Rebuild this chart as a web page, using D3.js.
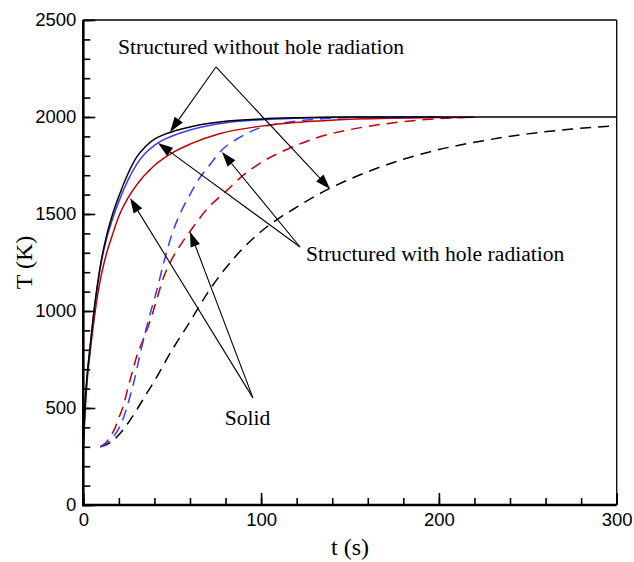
<!DOCTYPE html>
<html>
<head>
<meta charset="utf-8">
<script src="https://cdn.jsdelivr.net/npm/d3@7/dist/d3.min.js"></script>
<style>
body { margin: 0; background: #fff; }
</style>
</head>
<body>
<script>
// values: [t (s), T (K)]
var withoutHoleSolid = [[0,300],[1,520],[2,650],[4,830],[6,1000],[8,1140],[10,1255],[13,1385],[16,1485],[20,1592],[25,1705],[30,1793],[35,1848],[40,1886],[45,1908],[50,1924],[60,1948],[70,1966],[80,1978],[100,1990],[120,1996],[150,2000],[200,2000],[300,2000]];
var withHoleSolid = [[0,300],[1,515],[2,645],[4,825],[6,995],[8,1130],[10,1245],[13,1370],[16,1462],[20,1565],[25,1672],[30,1756],[35,1814],[40,1854],[45,1882],[50,1902],[60,1933],[70,1955],[80,1970],[100,1986],[120,1994],[150,1999],[200,2000]];
var solidSolid = [[0,300],[2,620],[4,800],[6,950],[8,1080],[10,1180],[13,1295],[16,1382],[20,1488],[25,1580],[30,1650],[40,1750],[50,1815],[60,1860],[77,1915],[100,1953],[133,1980],[150,1988],[200,1997],[220,1999]];

var withoutHoleDashed = [[9.5,300],[15,320],[20,362],[25,420],[30,490],[35,565],[40,640],[50,800],[60,945],[70,1095],[80,1220],[90,1325],[100,1410],[110,1478],[120,1535],[130,1590],[140,1638],[160,1718],[180,1782],[200,1832],[225,1878],[250,1913],[275,1938],[300,1955]];
var withHoleDashed = [[9.5,300],[12,310],[15,330],[18,365],[20,395],[23,460],[26,550],[29,655],[32,780],[35,895],[38,1000],[41,1095],[45,1240],[50,1400],[55,1512],[60,1600],[65,1680],[70,1740],[78,1830],[88,1895],[98,1940],[110,1965],[130,1988],[150,1997],[200,2000]];
var solidDashed = [[9.5,300],[12,315],[15,350],[18,400],[20,450],[22.5,510],[25,600],[28,700],[30,765],[34,860],[38,960],[41,1050],[45,1170],[50,1270],[55,1345],[60,1410],[70,1530],[80,1615],[90,1700],[100,1765],[115,1835],[133,1898],[150,1935],[170,1965],[190,1985],[220,2000]];

var xMajor = [0, 100, 200, 300];
var yMajor = [0, 500, 1000, 1500, 2000, 2500];

// annotation text + arrows (anchor points in data units)
var labels = ["Structured without hole radiation", "Structured with hole radiation", "Solid"];
var labelPos = [[19.5, 2325], [125.2, 1260], [79.5, 412]];
var arrowFrom = [[74.6, 2258], [121.9, 1330], [95.4, 552]];
var arrowTo = [
	[[48.8, 1923], [138.8, 1629]],
	[[42, 1866], [78, 1820]],
	[[26.3, 1582], [60, 1409]]
];

var width = 634, height = 562;
var plotL = 83.3, plotR = 616.7, plotT = 20, plotB = 505; // "top" is taken by window.top

var svg = d3.select("body").append("svg")
	.attr("width", width)
	.attr("height", height)
	.style("display", "block");

var x = d3.scaleLinear().domain([0, 300]).range([plotL, plotR]);
var y = d3.scaleLinear().domain([0, 2500]).range([plotB, plotT]);

var series = [
	{ pts: withoutHoleDashed, color: "#000000", dash: "11,7" },
	{ pts: solidDashed, color: "#c00000", dash: "11,7" },
	{ pts: withHoleDashed, color: "#3838ff", dash: "11,7" },
	{ pts: solidSolid, color: "#c00000", dash: null },
	{ pts: withHoleSolid, color: "#3838ff", dash: null },
	{ pts: withoutHoleSolid, color: "#000000", dash: null }
];

var line = d3.line()
	.x(function (d) { return x(d[0]); })
	.y(function (d) { return y(d[1]); })
	.curve(d3.curveMonotoneX);

svg.selectAll("path.curve")
	.data(series)
	.enter()
	.append("path")
	.attr("class", "curve")
	.attr("d", function (d) { return line(d.pts); })
	.attr("fill", "none")
	.attr("stroke", function (d) { return d.color; })
	.attr("stroke-width", 1.5)
	.attr("stroke-dasharray", function (d) { return d.dash; });

// axes, ticks pointing inward
var tickFont = "'Liberation Sans', Arial, Helvetica, sans-serif";

var yMinor = svg.append("g").attr("transform", "translate(" + plotL + ",0)")
	.call(d3.axisLeft(y).tickValues(d3.range(0, 2501, 100)).tickSize(-7).tickFormat(""));
var yAxis = svg.append("g").attr("transform", "translate(" + plotL + ",0)")
	.call(d3.axisLeft(y).tickValues(yMajor).tickSize(-12).tickPadding(7).tickFormat(d3.format("d")));

var xMinor = svg.append("g").attr("transform", "translate(0," + plotB + ")")
	.call(d3.axisBottom(x).tickValues(d3.range(0, 301, 20)).tickSize(-7).tickFormat(""));
var xAxis = svg.append("g").attr("transform", "translate(0," + plotB + ")")
	.call(d3.axisBottom(x).tickValues(xMajor).tickSize(-12).tickPadding(8).tickFormat(d3.format("d")));

[yMinor, yAxis, xMinor, xAxis].forEach(function (g) {
	g.select(".domain").remove();
	g.selectAll(".tick line").attr("stroke", "#000").attr("stroke-width", 1.6);
	g.selectAll(".tick text")
		.attr("fill", "#000")
		.style("font-family", tickFont)
		.style("font-size", "18.5px");
});

// frame: left and bottom heavier than top and right
svg.append("line").attr("x1", plotL).attr("y1", plotT).attr("x2", plotR).attr("y2", plotT)
	.attr("stroke", "#000").attr("stroke-width", 1.3);
svg.append("line").attr("x1", plotR).attr("y1", plotT).attr("x2", plotR).attr("y2", plotB)
	.attr("stroke", "#000").attr("stroke-width", 1.3);
svg.append("line").attr("x1", plotL).attr("y1", plotT).attr("x2", plotL).attr("y2", plotB + 1.2)
	.attr("stroke", "#000").attr("stroke-width", 2.6);
svg.append("line").attr("x1", plotL - 1.2).attr("y1", plotB).attr("x2", plotR).attr("y2", plotB)
	.attr("stroke", "#000").attr("stroke-width", 2.6);

// axis titles
var serif = "'Liberation Serif', 'Times New Roman', Times, serif";

svg.append("text")
	.attr("x", x(150))
	.attr("y", 555)
	.attr("text-anchor", "middle")
	.style("font-family", serif)
	.style("font-size", "24px")
	.text("t (s)");

svg.append("text")
	.attr("transform", "translate(32," + y(1250) + ") rotate(-90)")
	.attr("text-anchor", "middle")
	.style("font-family", serif)
	.style("font-size", "24px")
	.text("T (K)");

// arrows
var headLen = 15, headHalf = 5;

arrowFrom.forEach(function (from, i) {
	arrowTo[i].forEach(function (to) {
		var x0 = x(from[0]), y0 = y(from[1]);
		var x1 = x(to[0]), y1 = y(to[1]);
		var ang = Math.atan2(y1 - y0, x1 - x0);
		var bx = x1 - headLen * Math.cos(ang), by = y1 - headLen * Math.sin(ang);

		svg.append("line")
			.attr("x1", x0).attr("y1", y0)
			.attr("x2", bx).attr("y2", by)
			.attr("stroke", "#000").attr("stroke-width", 1.1);

		var px = -Math.sin(ang) * headHalf, py = Math.cos(ang) * headHalf;
		svg.append("path")
			.attr("d", "M" + x1 + "," + y1 + "L" + (bx + px) + "," + (by + py) + "L" + (bx - px) + "," + (by - py) + "Z")
			.attr("fill", "#000");
	});
});

svg.selectAll("text.note")
	.data(labels)
	.enter()
	.append("text")
	.attr("class", "note")
	.attr("x", function (d, i) { return x(labelPos[i][0]); })
	.attr("y", function (d, i) { return y(labelPos[i][1]); })
	.style("font-family", serif)
	.style("font-size", "21.6px")
	.text(function (d) { return d; });
</script>
</body>
</html>
